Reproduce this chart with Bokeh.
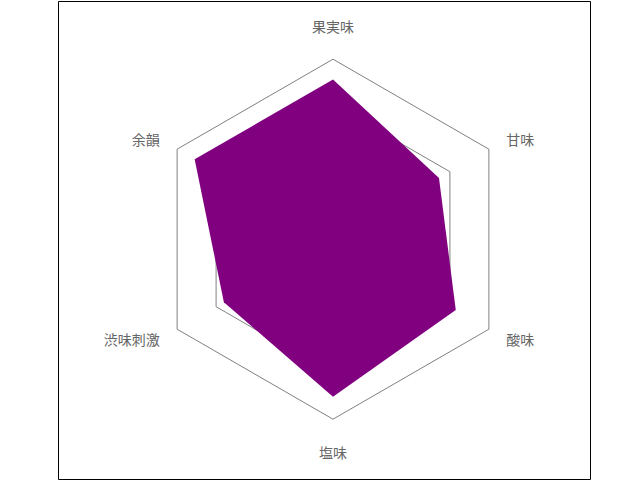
import numpy as np
from bokeh.plotting import figure
from bokeh.models import Range1d, ColumnDataSource
from bokeh.embed import file_html
from bokeh.resources import INLINE
from bokeh.core.properties import value

categories = ["果実味", "甘味", "酸味", "塩味", "渋味刺激", "余韻"]
scores = [3.55, 2.72, 3.15, 3.5, 2.8, 3.55]
grid_levels = [3, 4]
scale_max = 4

R = 180.0          # pixel radius of the outer ring
n = len(categories)
angles = np.pi / 2 - 2 * np.pi * np.arange(n) / n

p = figure(width=600, height=480, output_backend="svg", toolbar_location=None,
           x_range=Range1d(-274.5, 257.5), y_range=Range1d(-240.3, 237.7),
           min_border_left=58, min_border_right=10, min_border_top=1, min_border_bottom=1)
p.xaxis.visible = False
p.yaxis.visible = False
p.grid.visible = False
p.outline_line_color = "black"
p.outline_line_width = 1
p.background_fill_color = "white"
p.border_fill_color = "white"

cos_a = np.cos(angles)
sin_a = np.sin(angles)

# grid rings
for lvl in grid_levels:
    r = R * lvl / scale_max
    gx = list(r * cos_a) + [r * cos_a[0]]
    gy = list(r * sin_a) + [r * sin_a[0]]
    p.line(gx, gy, line_color="#808080", line_width=1)

# data polygon
rs = R * np.array(scores) / scale_max
p.patch(list(rs * cos_a), list(rs * sin_a), fill_color="#800080", line_color=None)

# labels
lx, ly, la = [], [], []
for a, c, s in zip(angles, cos_a, sin_a):
    if abs(c) < 1e-6:
        lr = R + 33
        la.append("center")
    else:
        lr = R + 20
        la.append("left" if c > 0 else "right")
    lx.append(lr * c)
    ly.append(lr * s)
src = ColumnDataSource(dict(x=lx, y=ly, t=categories, a=la))
p.text(x="x", y="y", text="t", text_align="a", source=src, text_baseline="middle",
       text_font=value("Noto Sans CJK JP"), text_font_size="14px", text_color="#666666")

open("out.html", "w").write(file_html(p, INLINE))
